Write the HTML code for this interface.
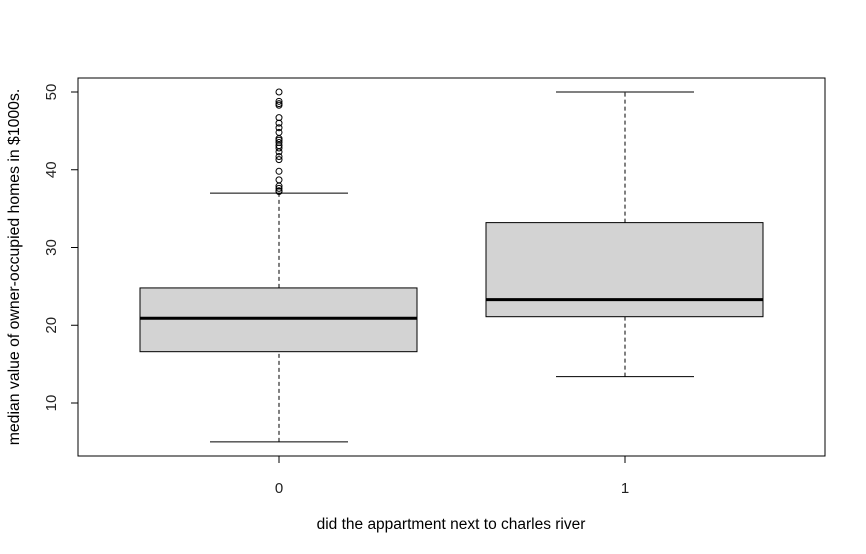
<!DOCTYPE html>
<html><head><meta charset="utf-8"><style>body{margin:0;background:#fff}svg{display:block;font-family:"Liberation Sans",Arial,sans-serif}</style></head>
<body>
<svg id="chart" width="866" height="554">
<rect x="78" y="78" width="747" height="378" fill="none" stroke="#000"/>
<g id="marks"></g>
<text x="451" y="529" font-size="15.5" text-anchor="middle">did the appartment next to charles river</text>
<text transform="translate(19,267) rotate(-90)" font-size="15.8" text-anchor="middle">median value of owner-occupied homes in $1000s.</text>
</svg>
<script>
const categories = ["0", "1"];
const whiskerLow = [5, 13.4];
const q1 = [16.6, 21.1];
const medians = [20.9, 23.3];
const q3 = [24.8, 33.2];
const whiskerHigh = [37.0, 50];
const outliers0 = [37.2,37.3,37.6,37.9,38.7,39.8,41.3,41.7,42.3,42.8,43.1,43.5,43.8,44.0,44.8,45.4,46.0,46.7,48.3,48.5,48.8,50];
const outliers1 = [];
const yTicks = [10, 20, 30, 40, 50];

const NS = "http://www.w3.org/2000/svg";
const g = document.getElementById("marks");
const y = v => 403 - (v - 10) * 7.775;
const x = i => 279 + i * 346;
function mk(tag, attrs) { const e = document.createElementNS(NS, tag); for (const k in attrs) e.setAttribute(k, attrs[k]); g.appendChild(e); return e; }

yTicks.forEach(t => {
  const l = mk("line", {x1: 71, x2: 78, y1: y(t), y2: y(t), stroke: "#000"});
  
  
  const tx = mk("text", {transform: `translate(56,${y(t)}) rotate(-90)`, "font-size": 15, "text-anchor": "middle", fill: "#222"});
  tx.textContent = t;
  
  
});
const yAxis = mk("line", {x1: 78, x2: 78, y1: y(yTicks[0]), y2: y(yTicks[yTicks.length-1]), stroke: "#000"});



const outs = [outliers0, outliers1];
categories.forEach((c, i) => {
  const cx = x(i);
  const w1 = mk("line", {x1: cx, x2: cx, y1: y(whiskerLow[i]), y2: y(q1[i]), stroke: "#000", "stroke-dasharray": "4,3"});
  
  
  const w2 = mk("line", {x1: cx, x2: cx, y1: y(q3[i]), y2: y(whiskerHigh[i]), stroke: "#000", "stroke-dasharray": "4,3"});
  
  
  [whiskerLow[i], whiskerHigh[i]].forEach(v => {
    const cap = mk("line", {x1: cx - 69, x2: cx + 69, y1: y(v), y2: y(v), stroke: "#000"});
    
    
  });
  const box = mk("rect", {x: cx - 139, width: 277, y: y(q3[i]), height: y(q1[i]) - y(q3[i]), fill: "#d3d3d3", stroke: "#000"});
  
  
  const med = mk("line", {x1: cx - 139, x2: cx + 138, y1: y(medians[i]), y2: y(medians[i]), stroke: "#000", "stroke-width": 3});
  
  
  outs[i].forEach(v => {
    const o = mk("circle", {cx: cx, cy: y(v), r: 3, fill: "none", stroke: "#000"});
    
    
  });
  const t = mk("line", {x1: cx, x2: cx, y1: 456, y2: 463, stroke: "#000"});
  
  
  const lab = mk("text", {x: cx, y: 493, "font-size": 15, "text-anchor": "middle", fill: "#222"});
  lab.textContent = c;
  
  
});
const xAxis = mk("line", {x1: x(0), x2: x(1), y1: 456, y2: 456, stroke: "#000"});


</script>
</body></html>
